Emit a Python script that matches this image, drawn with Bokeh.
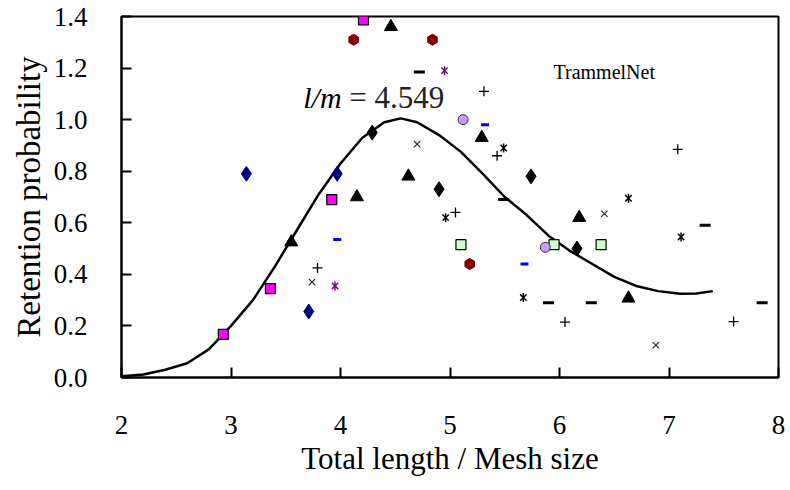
import math
from bokeh.plotting import figure
from bokeh.models import Range1d, FixedTicker
from bokeh.core.properties import value
from bokeh.embed import file_html
from bokeh.resources import INLINE

# fitted curve
curve_x = [2.0, 2.2, 2.4, 2.6, 2.8, 3.0, 3.2, 3.4, 3.6, 3.8, 4.0, 4.2, 4.4, 4.55, 4.7,
           4.9, 5.1, 5.3, 5.5, 5.7, 5.9, 6.1, 6.3, 6.5, 6.7, 6.9, 7.1, 7.25, 7.4]
curve_y = [0.005, 0.012, 0.03, 0.055, 0.11, 0.2, 0.3, 0.43, 0.57, 0.71, 0.83, 0.93, 0.99, 1.005, 0.99,
           0.94, 0.875, 0.79, 0.70, 0.63, 0.55, 0.49, 0.44, 0.39, 0.355, 0.335, 0.325, 0.326, 0.335]

# observed series
navy_diamond_x = [3.14, 3.71, 3.97]
navy_diamond_y = [0.79, 0.256, 0.79]
magenta_square_x = [2.93, 3.36, 3.92, 4.21]
magenta_square_y = [0.167, 0.345, 0.69, 1.387]
triangle_x = [3.55, 4.15, 4.46, 4.62, 5.29, 6.18, 6.63]
triangle_y = [0.525, 0.70, 1.36, 0.78, 0.93, 0.62, 0.307]
black_diamond_x = [4.29, 4.90, 5.74, 6.16]
black_diamond_y = [0.95, 0.73, 0.78, 0.50]
maroon_circle_x = [4.12, 4.84, 5.18]
maroon_circle_y = [1.31, 1.31, 0.44]
black_dash_x = [4.72, 5.49, 5.90, 6.29, 7.33, 7.85]
black_dash_y = [1.185, 0.69, 0.29, 0.29, 0.59, 0.29]
blue_dash_x = [3.97, 5.32, 5.68]
blue_dash_y = [0.535, 0.98, 0.44]
purple_star_x = [3.95, 4.95]
purple_star_y = [0.355, 1.19]
plus_x = [3.79, 5.05, 5.31, 5.43, 6.05, 7.08, 7.59]
plus_y = [0.425, 0.64, 1.11, 0.86, 0.215, 0.885, 0.217]
cross_x = [3.74, 4.70, 6.41, 6.88]
cross_y = [0.37, 0.905, 0.635, 0.125]
black_star_x = [4.96, 5.49, 5.67, 6.63, 7.11]
black_star_y = [0.62, 0.89, 0.31, 0.695, 0.545]
green_square_x = [5.10, 5.95, 6.38]
green_square_y = [0.515, 0.515, 0.515]
lavender_circle_x = [5.12, 5.87]
lavender_circle_y = [1.0, 0.505]

x_ticks = [2, 3, 4, 5, 6, 7, 8]
y_ticks = [0.0, 0.2, 0.4, 0.6, 0.8, 1.0, 1.2, 1.4]
y_tick_labels = ["0.0", "0.2", "0.4", "0.6", "0.8", "1.0", "1.2", "1.4"]

FONT = "Liberation Serif"

p = figure(width=790, height=490, output_backend="svg", toolbar_location=None,
           x_range=Range1d(2, 8), y_range=Range1d(0, 1.4),
           min_border_left=121, min_border_right=12, min_border_top=16, min_border_bottom=113)
p.background_fill_color = "white"
p.border_fill_color = "white"
p.outline_line_color = "black"
p.outline_line_width = 2
p.xgrid.visible = False
p.ygrid.visible = False

for ax in (p.xaxis[0], p.yaxis[0]):
    ax.axis_line_color = "black"
    ax.axis_line_width = 2
    ax.major_tick_in = 10
    ax.major_tick_out = 0
    ax.major_tick_line_width = 2
    ax.major_tick_line_color = "black"
    ax.minor_tick_line_color = None
    ax.major_label_text_font = FONT
    ax.major_label_text_font_size = "27px"
    ax.major_label_text_color = "black"
    ax.axis_label_text_font = FONT
    ax.axis_label_text_font_style = "normal"
    ax.axis_label_text_color = "black"

p.xaxis[0].axis_label_text_font_size = "31px"
p.yaxis[0].axis_label_text_font_size = "33px"
p.xaxis[0].ticker = FixedTicker(ticks=x_ticks)
p.yaxis[0].ticker = FixedTicker(ticks=y_ticks)
p.yaxis[0].major_label_overrides = {t: l for t, l in zip(y_ticks, y_tick_labels)}
p.xaxis[0].major_label_standoff = 38
p.yaxis[0].major_label_standoff = 34
p.xaxis[0].axis_label = "Total length / Mesh size"
p.yaxis[0].axis_label = "Retention probability"
p.xaxis[0].axis_label_standoff = 4
p.yaxis[0].axis_label_standoff = 4

# curve
p.line(curve_x, curve_y, line_color="black", line_width=2.5)

# markers
p.scatter(navy_diamond_x, navy_diamond_y, marker="diamond", size=15,
          fill_color="#000080", line_color="#000080")
p.scatter(magenta_square_x, magenta_square_y, marker="square", size=10,
          fill_color="#FF00FF", line_color="black", line_width=1.2)
p.scatter(triangle_x, triangle_y, marker="triangle", size=13,
          fill_color="black", line_color="black")
p.scatter(black_diamond_x, black_diamond_y, marker="diamond", size=15,
          fill_color="black", line_color="black")
p.scatter(maroon_circle_x, maroon_circle_y, marker="hex", size=11, angle=math.pi / 2,
          fill_color="#800000", line_color="#800000")
p.scatter(black_dash_x, black_dash_y, marker="dash", size=11,
          line_color="black", line_width=3)
p.scatter(blue_dash_x, blue_dash_y, marker="dash", size=8,
          line_color="#0000FF", line_width=3)
p.scatter(purple_star_x, purple_star_y, marker="x", size=9,
          line_color="#800080", line_width=1.5)
p.scatter(purple_star_x, purple_star_y, marker="dash", size=9, angle=math.pi / 2,
          line_color="#800080", line_width=1.5)
p.scatter(plus_x, plus_y, marker="cross", size=10,
          line_color="black", line_width=1.3)
p.scatter(cross_x, cross_y, marker="x", size=9,
          line_color="#222222", line_width=1.1)
p.scatter(black_star_x, black_star_y, marker="x", size=9,
          line_color="black", line_width=1.5)
p.scatter(black_star_x, black_star_y, marker="dash", size=9, angle=math.pi / 2,
          line_color="black", line_width=1.5)
p.scatter(green_square_x, green_square_y, marker="square", size=10,
          fill_color="#CCFFCC", line_color="black", line_width=1.2)
p.scatter(lavender_circle_x, lavender_circle_y, marker="circle", size=10,
          fill_color="#CC99FF", line_color="#333333", line_width=1)

# annotations
p.text(x=[3.66], y=[1.087], text=["l/m"], text_font=value(FONT), text_font_style="italic",
       text_font_size="30px", text_baseline="middle", text_align="left", text_color="black")
p.text(x=[4.08], y=[1.087], text=["= 4.549"], text_font=value(FONT),
       text_font_size="31px", text_baseline="middle", text_align="left", text_color="#222222")
p.text(x=[5.945], y=[1.184], text=["TrammelNet"], text_font=value(FONT),
       text_font_size="20px", text_baseline="middle", text_align="left", text_color="black")

open("out.html", "w").write(file_html(p, INLINE))
